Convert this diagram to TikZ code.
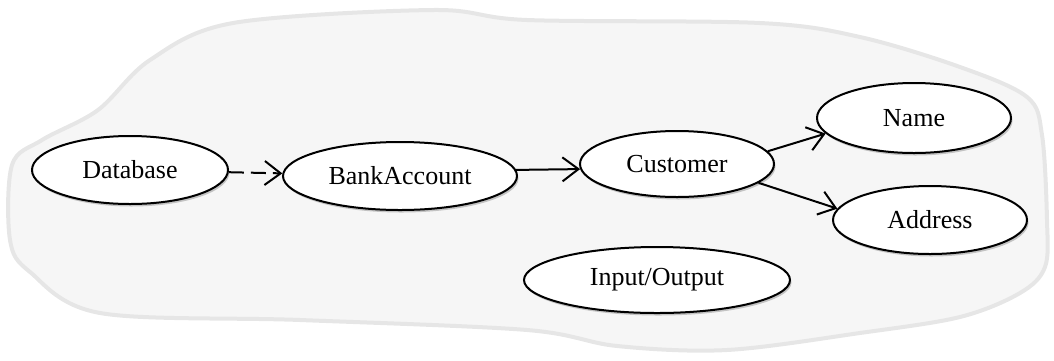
\documentclass[tikz,border=0pt]{standalone}
\usepackage{fontspec}
\setmainfont{Liberation Serif}
\usetikzlibrary{shapes.geometric,arrows.meta,shadows}
\definecolor{blobfill}{HTML}{F6F6F6}
\definecolor{blobline}{HTML}{E6E6E6}
\tikzset{
  entity/.style={ellipse, draw=black, line width=2pt, fill=white, inner sep=0pt,
    font=\fontsize{26}{30}\selectfont,
    drop shadow={shadow xshift=1.5pt, shadow yshift=-2.5pt, opacity=0.35, fill=black!60}},
  link/.style={line width=2pt, -{Straight Barb[length=16pt,width=24pt,line width=2pt]}},
  weaklink/.style={link, dash pattern=on 15pt off 7pt},
}
\begin{document}
\begin{tikzpicture}[x=1pt,y=-1pt]
\useasboundingbox (0,0) rectangle (1054,360);
% hand-drawn outline around the model
\draw[blobline, fill=blobfill, line width=4pt, line join=round]
  plot[smooth cycle, tension=0.55] coordinates {
    (12,165) (42,140) (98,110) (150,60) (233,23) (433,10) (527,20) (760,23)
    (860,37) (960,67) (1027,97) (1042,135) (1047,220) (1045,267) (1020,293)
    (960,317) (860,333) (727,350) (617,346) (527,330) (300,320) (100,313)
    (30,272) (10,240)};
% entities
\node[entity, minimum width=196pt, minimum height=68pt] (db) at (130,170) {Database};
\node[entity, minimum width=234pt, minimum height=68pt] (bank) at (400,176) {BankAccount};
\node[entity, minimum width=194pt, minimum height=66pt] (cust) at (677,164) {Customer};
\node[entity, minimum width=194pt, minimum height=70pt] (name) at (914,118) {Name};
\node[entity, minimum width=194pt, minimum height=68pt] (addr) at (930,220) {Address};
\node[entity, minimum width=266pt, minimum height=66pt] (io) at (657,280) {Input/Output};
% relations
\draw[weaklink] (db) -- (bank);
\draw[link] (bank.3) -- (cust.183.6);
\draw[link] (cust.8) -- (name.190);
\draw[link] (cust.-13) -- (addr.173);
\end{tikzpicture}
\end{document}
